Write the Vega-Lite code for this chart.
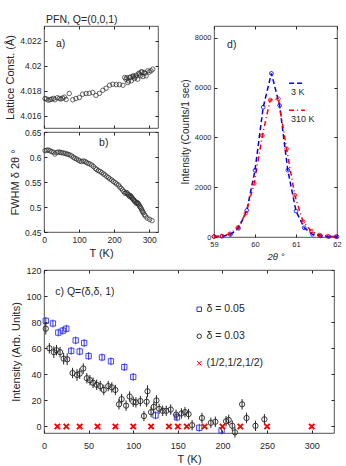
{
 "$schema": "https://vega.github.io/schema/vega-lite/v6.json",
 "padding": {"left": 4, "top": 14, "right": 0, "bottom": 0},
 "background": "white",
 "config": {
  "font": "Liberation Sans",
  "view": {"stroke": "#262626", "strokeWidth": 0.8},
  "axis": {"domain": false, "grid": false, "tickColor": "#262626", "tickSize": -3, "labelPadding": 6, "labelColor": "#262626", "titleColor": "#262626", "labelFontSize": 8.5, "titleFontSize": 11, "titleFontWeight": "normal", "titlePadding": 4, "labelFlush": false, "labelOverlap": false},
  "legend": {"labelColor": "#262626"},
  "title": {"fontWeight": "normal", "fontSize": 10.5, "color": "#262626"}
 },
 "datasets": {
  "pa": [
   {"T":3,"L":4.01739},{"T":7,"L":4.01735},{"T":12,"L":4.01726},{"T":17,"L":4.0173},{"T":22,"L":4.01734},{"T":27,"L":4.0174},{"T":31,"L":4.01729},{"T":38,"L":4.01745},{"T":44,"L":4.0174},{"T":48,"L":4.01735},{"T":53,"L":4.01742},{"T":58,"L":4.0175},{"T":63,"L":4.01731},{"T":72,"L":4.01779},{"T":82,"L":4.01729},{"T":91,"L":4.01739},{"T":101,"L":4.01747},{"T":110,"L":4.01773},{"T":120,"L":4.01779},{"T":129,"L":4.0178},{"T":139,"L":4.01787},{"T":148,"L":4.01764},{"T":158,"L":4.0178},{"T":168,"L":4.01805},{"T":177,"L":4.01821},{"T":187,"L":4.01845},{"T":196,"L":4.01853},{"T":206,"L":4.0185},{"T":215,"L":4.0185},{"T":225,"L":4.01845},{"T":230,"L":4.01906},{"T":234,"L":4.01893},{"T":236,"L":4.01905},{"T":239,"L":4.01866},{"T":241,"L":4.0188},{"T":244,"L":4.01906},{"T":247,"L":4.0191},{"T":249,"L":4.0188},{"T":253,"L":4.01914},{"T":255,"L":4.0192},{"T":258,"L":4.01898},{"T":260,"L":4.0191},{"T":263,"L":4.01925},{"T":267,"L":4.01893},{"T":270,"L":4.0194},{"T":272,"L":4.01933},{"T":275,"L":4.0192},{"T":277,"L":4.01952},{"T":280,"L":4.0195},{"T":282,"L":4.01914},{"T":286,"L":4.01946},{"T":288,"L":4.0194},{"T":291,"L":4.0192},{"T":296,"L":4.0196},{"T":300,"L":4.0195},{"T":305,"L":4.0196},{"T":310,"L":4.01973}
  ],
  "pb": [
   {"T":3,"W":0.6127},{"T":8,"W":0.6135},{"T":12,"W":0.614},{"T":17,"W":0.6125},{"T":22,"W":0.6107},{"T":27,"W":0.6095},{"T":31,"W":0.606},{"T":36,"W":0.609},{"T":41,"W":0.61},{"T":46,"W":0.6095},{"T":50,"W":0.6087},{"T":55,"W":0.608},{"T":60,"W":0.6073},{"T":65,"W":0.606},{"T":69,"W":0.6053},{"T":74,"W":0.604},{"T":79,"W":0.602},{"T":84,"W":0.5995},{"T":88,"W":0.5973},{"T":93,"W":0.596},{"T":98,"W":0.594},{"T":102,"W":0.592},{"T":107,"W":0.5907},{"T":112,"W":0.592},{"T":117,"W":0.5913},{"T":121,"W":0.589},{"T":126,"W":0.5873},{"T":131,"W":0.586},{"T":136,"W":0.584},{"T":141,"W":0.581},{"T":146,"W":0.5773},{"T":150,"W":0.575},{"T":155,"W":0.5727},{"T":160,"W":0.571},{"T":165,"W":0.5687},{"T":170,"W":0.566},{"T":174,"W":0.564},{"T":179,"W":0.561},{"T":184,"W":0.5587},{"T":188,"W":0.556},{"T":193,"W":0.554},{"T":198,"W":0.551},{"T":203,"W":0.5487},{"T":207,"W":0.546},{"T":212,"W":0.544},{"T":216,"W":0.54},{"T":220,"W":0.5373},{"T":224,"W":0.534},{"T":228,"W":0.5307},{"T":231,"W":0.5273},{"T":234,"W":0.529},{"T":237,"W":0.528},{"T":239,"W":0.5255},{"T":241,"W":0.524},{"T":244,"W":0.5207},{"T":246,"W":0.523},{"T":248,"W":0.5213},{"T":250,"W":0.519},{"T":252,"W":0.5173},{"T":254,"W":0.5155},{"T":256,"W":0.514},{"T":258,"W":0.512},{"T":260,"W":0.5107},{"T":263,"W":0.5073},{"T":265,"W":0.509},{"T":267,"W":0.508},{"T":269,"W":0.506},{"T":271,"W":0.504},{"T":273,"W":0.501},{"T":275,"W":0.4993},{"T":277,"W":0.497},{"T":279,"W":0.494},{"T":281,"W":0.491},{"T":283,"W":0.4887},{"T":286,"W":0.485},{"T":289,"W":0.482},{"T":294,"W":0.478},{"T":301,"W":0.4753},{"T":308,"W":0.4727}
  ],
  "pd": [
   {"a":59.0,"I":20,"s":"3 K"},{"a":59.2,"I":30,"s":"3 K"},{"a":59.4,"I":100,"s":"3 K"},{"a":59.6,"I":350,"s":"3 K"},{"a":59.8,"I":1070,"s":"3 K"},{"a":60.0,"I":2680,"s":"3 K"},{"a":60.2,"I":5210,"s":"3 K"},{"a":60.4,"I":6570,"s":"3 K"},{"a":60.6,"I":5280,"s":"3 K"},{"a":60.8,"I":2680,"s":"3 K"},{"a":61.0,"I":1040,"s":"3 K"},{"a":61.2,"I":370,"s":"3 K"},{"a":61.4,"I":110,"s":"3 K"},{"a":61.6,"I":40,"s":"3 K"},{"a":61.8,"I":15,"s":"3 K"},{"a":62.0,"I":10,"s":"3 K"},
   {"a":59.0,"I":20,"s":"310 K"},{"a":59.19,"I":40,"s":"310 K"},{"a":59.39,"I":130,"s":"310 K"},{"a":59.58,"I":380,"s":"310 K"},{"a":59.78,"I":960,"s":"310 K"},{"a":59.98,"I":2150,"s":"310 K"},{"a":60.18,"I":4070,"s":"310 K"},{"a":60.37,"I":5500,"s":"310 K"},{"a":60.57,"I":5550,"s":"310 K"},{"a":60.77,"I":3540,"s":"310 K"},{"a":60.97,"I":1680,"s":"310 K"},{"a":61.17,"I":620,"s":"310 K"},{"a":61.37,"I":240,"s":"310 K"},{"a":61.57,"I":80,"s":"310 K"},{"a":61.77,"I":30,"s":"310 K"},{"a":61.97,"I":15,"s":"310 K"}
  ],
  "pc": [
   {"T":2,"I":81,"e":3,"s":"δ = 0.05"},{"T":10,"I":79,"e":3,"s":"δ = 0.05"},{"T":16,"I":72,"e":3,"s":"δ = 0.05"},{"T":21,"I":73.5,"e":3,"s":"δ = 0.05"},{"T":25,"I":75,"e":3,"s":"δ = 0.05"},{"T":30.5,"I":58,"e":3,"s":"δ = 0.05"},{"T":35.5,"I":66,"e":3,"s":"δ = 0.05"},{"T":40,"I":57.5,"e":3,"s":"δ = 0.05"},{"T":45,"I":64,"e":3,"s":"δ = 0.05"},{"T":50,"I":54,"e":3,"s":"δ = 0.05"},{"T":65,"I":53,"e":3,"s":"δ = 0.05"},{"T":75,"I":50,"e":3,"s":"δ = 0.05"},{"T":90,"I":45.5,"e":3,"s":"δ = 0.05"},{"T":100,"I":38,"e":3,"s":"δ = 0.05"},{"T":125,"I":8.5,"e":3,"s":"δ = 0.05"},{"T":149,"I":7,"e":3,"s":"δ = 0.05"},{"T":174,"I":-1,"e":3,"s":"δ = 0.05"},{"T":199,"I":-3,"e":3,"s":"δ = 0.05"},
   {"T":2,"I":75,"e":4.5,"s":"δ = 0.03"},{"T":6,"I":60,"e":4,"s":"δ = 0.03"},{"T":11,"I":57,"e":4.5,"s":"δ = 0.03"},{"T":14,"I":58.5,"e":4,"s":"δ = 0.03"},{"T":18,"I":57,"e":4,"s":"δ = 0.03"},{"T":22,"I":52,"e":4.5,"s":"δ = 0.03"},{"T":26,"I":51.5,"e":4.5,"s":"δ = 0.03"},{"T":32,"I":41,"e":4,"s":"δ = 0.03"},{"T":37,"I":39.5,"e":4.5,"s":"δ = 0.03"},{"T":40,"I":40.5,"e":4,"s":"δ = 0.03"},{"T":44,"I":44.5,"e":4,"s":"δ = 0.03"},{"T":48,"I":37,"e":4,"s":"δ = 0.03"},{"T":51.5,"I":35.5,"e":4,"s":"δ = 0.03"},{"T":55,"I":33.5,"e":4,"s":"δ = 0.03"},{"T":59,"I":32,"e":4,"s":"δ = 0.03"},{"T":63,"I":31,"e":4,"s":"δ = 0.03"},{"T":67,"I":28,"e":4,"s":"δ = 0.03"},{"T":72,"I":31,"e":4,"s":"δ = 0.03"},{"T":76,"I":30,"e":4,"s":"δ = 0.03"},{"T":80,"I":28,"e":4,"s":"δ = 0.03"},{"T":84,"I":17,"e":4,"s":"δ = 0.03"},{"T":87,"I":21,"e":4,"s":"δ = 0.03"},{"T":92,"I":16,"e":4,"s":"δ = 0.03"},{"T":96,"I":23,"e":4,"s":"δ = 0.03"},{"T":100,"I":19,"e":4,"s":"δ = 0.03"},{"T":103,"I":18.5,"e":4,"s":"δ = 0.03"},{"T":108,"I":19.5,"e":4,"s":"δ = 0.03"},{"T":112,"I":8,"e":4,"s":"δ = 0.03"},{"T":115,"I":19,"e":4,"s":"δ = 0.03"},{"T":116,"I":27,"e":4.5,"s":"δ = 0.03"},{"T":120,"I":11,"e":4,"s":"δ = 0.03"},{"T":123,"I":15,"e":4,"s":"δ = 0.03"},{"T":126,"I":20,"e":4,"s":"δ = 0.03"},{"T":129,"I":13.5,"e":4,"s":"δ = 0.03"},{"T":133,"I":12,"e":4,"s":"δ = 0.03"},{"T":137,"I":12,"e":4,"s":"δ = 0.03"},{"T":142,"I":13,"e":4,"s":"δ = 0.03"},{"T":148,"I":9,"e":4,"s":"δ = 0.03"},{"T":154,"I":10,"e":4,"s":"δ = 0.03"},{"T":158,"I":11,"e":4,"s":"δ = 0.03"},{"T":162,"I":9.5,"e":4,"s":"δ = 0.03"},{"T":166,"I":1,"e":4,"s":"δ = 0.03"},{"T":177,"I":6.5,"e":4,"s":"δ = 0.03"},{"T":187,"I":2.8,"e":4,"s":"δ = 0.03"},{"T":192,"I":3.6,"e":4,"s":"δ = 0.03"},{"T":204,"I":4,"e":4,"s":"δ = 0.03"},{"T":207,"I":5,"e":4,"s":"δ = 0.03"},{"T":211,"I":0.5,"e":4,"s":"δ = 0.03"},{"T":214,"I":-4.5,"e":4,"s":"δ = 0.03"},{"T":222,"I":17,"e":4,"s":"δ = 0.03"},{"T":227,"I":6.5,"e":4,"s":"δ = 0.03"},{"T":237,"I":0.5,"e":4,"s":"δ = 0.03"},{"T":247,"I":5.5,"e":4,"s":"δ = 0.03"},
   {"T":15,"I":0,"e":0,"s":"(1/2,1/2,1/2)"},{"T":25,"I":0,"e":0,"s":"(1/2,1/2,1/2)"},{"T":40,"I":0,"e":0,"s":"(1/2,1/2,1/2)"},{"T":60,"I":0,"e":0,"s":"(1/2,1/2,1/2)"},{"T":80,"I":0,"e":0,"s":"(1/2,1/2,1/2)"},{"T":100,"I":0,"e":0,"s":"(1/2,1/2,1/2)"},{"T":120,"I":0,"e":0,"s":"(1/2,1/2,1/2)"},{"T":140,"I":0,"e":0,"s":"(1/2,1/2,1/2)"},{"T":150,"I":0,"e":0,"s":"(1/2,1/2,1/2)"},{"T":160,"I":0,"e":0,"s":"(1/2,1/2,1/2)"},{"T":180,"I":0,"e":0,"s":"(1/2,1/2,1/2)"},{"T":200,"I":0,"e":0,"s":"(1/2,1/2,1/2)"},{"T":220,"I":0,"e":0,"s":"(1/2,1/2,1/2)"},{"T":250,"I":0,"e":0,"s":"(1/2,1/2,1/2)"},{"T":300,"I":0,"e":0,"s":"(1/2,1/2,1/2)"}
  ]
 },
 "vconcat": [
  {"hconcat": [
   {"vconcat": [
    {
     "width": 114, "height": 102,
     "title": {"text": "PFN, Q=(0,0,1)", "anchor": "start", "frame": "group", "offset": 0, "dx": 2},
     "layer": [
      {"data": {"name": "pa"},
       "mark": {"type": "point", "shape": "circle", "filled": false, "size": 20, "strokeWidth": 0.7, "color": "#262626", "opacity": 1},
       "encoding": {
        "x": {"field": "T", "type": "quantitative", "scale": {"domain": [0, 325], "nice": false}, "axis": {"orient": "bottom", "values": [0, 100, 200, 300], "labels": false, "title": null}},
        "y": {"field": "L", "type": "quantitative", "scale": {"domain": [4.01504, 4.02317], "nice": false, "zero": false}, "axis": {"orient": "left", "values": [4.016, 4.018, 4.02, 4.022], "format": ".3~f", "title": "Lattice Const. (Å)"}}
       }},
      {"data": {"values": [{"T": 34, "L": 4.02176, "t": "a)"}]},
       "mark": {"type": "text", "align": "left", "baseline": "middle", "fontSize": 10.5, "color": "#262626"},
       "encoding": {
        "x": {"field": "T", "type": "quantitative", "scale": {"domain": [0, 325], "nice": false}, "axis": {"orient": "top", "values": [0, 100, 200, 300], "labels": false, "title": null}},
        "y": {"field": "L", "type": "quantitative", "scale": {"domain": [4.01504, 4.02317], "nice": false, "zero": false}, "axis": {"orient": "right", "values": [4.016, 4.018, 4.02, 4.022], "labels": false, "title": null}},
        "text": {"field": "t"}
       }}
     ],
     "resolve": {"axis": {"x": "independent", "y": "independent"}}
    },
    {
     "width": 114, "height": 100,
     "layer": [
      {"data": {"name": "pb"},
       "mark": {"type": "point", "shape": "circle", "filled": false, "size": 20, "strokeWidth": 0.7, "color": "#262626", "opacity": 1},
       "encoding": {
        "x": {"field": "T", "type": "quantitative", "scale": {"domain": [0, 325], "nice": false}, "axis": {"orient": "bottom", "values": [0, 100, 200, 300], "title": "T (K)"}},
        "y": {"field": "W", "type": "quantitative", "scale": {"domain": [0.45, 0.65], "nice": false, "zero": false}, "axis": {"orient": "left", "values": [0.45, 0.5, 0.55, 0.6, 0.65], "format": ".2~f", "title": "FWHM δ 2θ °"}}
       }},
      {"data": {"values": [{"T": 157, "W": 0.6286, "t": "b)"}]},
       "mark": {"type": "text", "align": "left", "baseline": "middle", "fontSize": 10.5, "color": "#262626"},
       "encoding": {
        "x": {"field": "T", "type": "quantitative", "scale": {"domain": [0, 325], "nice": false}, "axis": {"orient": "top", "values": [0, 100, 200, 300], "labels": false, "title": null}},
        "y": {"field": "W", "type": "quantitative", "scale": {"domain": [0.45, 0.65], "nice": false, "zero": false}, "axis": {"orient": "right", "values": [0.45, 0.5, 0.55, 0.6, 0.65], "labels": false, "title": null}},
        "text": {"field": "t"}
       }}
     ],
     "resolve": {"axis": {"x": "independent", "y": "independent"}}
    }
   ], "spacing": -2},
   {
    "width": 123, "height": 211,
    "layer": [
     {"data": {"name": "pd"},
      "mark": {"type": "line", "strokeWidth": 1.5},
      "encoding": {
       "x": {"field": "a", "type": "quantitative", "scale": {"domain": [59, 62], "nice": false}, "axis": {"orient": "bottom", "values": [59, 60, 61, 62], "title": "2θ °", "titleFontStyle": "italic", "labelFontSize": 7.5, "titleFontSize": 9.5}},
       "y": {"field": "I", "type": "quantitative", "scale": {"domain": [0, 8470], "nice": false}, "axis": {"orient": "left", "values": [0, 2000, 4000, 6000, 8000], "format": "d", "title": "Intensity (Counts/1 sec)", "labelFontSize": 7.5, "titleFontSize": 10}},
       "color": {"field": "s", "type": "nominal", "scale": {"domain": ["3 K", "310 K"], "range": ["#0000ff", "#ff0000"]},
        "legend": {"orient": "none", "legendX": 74, "legendY": 57, "title": null, "symbolType": "M-1,-1.1L1,-1.1", "symbolSize": 250, "symbolStrokeWidth": 1.5, "labelFontSize": 9, "labelOffset": -15, "rowPadding": 10, "padding": 0}},
       "strokeDash": {"field": "s", "type": "nominal", "scale": {"domain": ["3 K", "310 K"], "range": [[5, 3], [5, 3, 1, 3]]},
        "legend": {"orient": "none", "legendX": 74, "legendY": 57, "title": null, "symbolType": "M-1,-1.1L1,-1.1", "symbolSize": 250, "symbolStrokeWidth": 1.5, "labelFontSize": 9, "labelOffset": -15, "rowPadding": 10, "padding": 0}}
      }},
     {"data": {"name": "pd"},
      "mark": {"type": "point", "shape": "circle", "filled": false, "size": 14, "strokeWidth": 0.8, "opacity": 1},
      "encoding": {
       "x": {"field": "a", "type": "quantitative", "scale": {"domain": [59, 62], "nice": false}, "axis": null},
       "y": {"field": "I", "type": "quantitative", "scale": {"domain": [0, 8470], "nice": false}, "axis": null},
       "color": {"field": "s", "type": "nominal", "scale": {"domain": ["3 K", "310 K"], "range": ["#0000ff", "#ff0000"]}, "legend": null}
      }},
     {"data": {"values": [{"a": 59.32, "I": 7708, "t": "d)"}]},
      "mark": {"type": "text", "align": "left", "baseline": "middle", "fontSize": 10.5, "color": "#262626"},
      "encoding": {
       "x": {"field": "a", "type": "quantitative", "scale": {"domain": [59, 62], "nice": false}, "axis": {"orient": "top", "values": [59, 60, 61, 62], "labels": false, "title": null}},
       "y": {"field": "I", "type": "quantitative", "scale": {"domain": [0, 8470], "nice": false}, "axis": {"orient": "right", "values": [0, 2000, 4000, 6000, 8000], "labels": false, "title": null}},
       "text": {"field": "t"}
      }}
    ],
    "resolve": {"axis": {"x": "independent", "y": "independent"}}
   }
  ], "spacing": 20,
  "resolve": {"scale": {"color": "independent", "strokeDash": "independent"}, "legend": {"color": "independent", "strokeDash": "independent"}}},
  {"hconcat": [
  {
   "width": 290, "height": 163,
   "layer": [
    {"data": {"name": "pc"},
     "transform": [{"filter": "datum.s != '(1/2,1/2,1/2)'"}],
     "mark": {"type": "point", "filled": false, "size": 28, "strokeWidth": 0.9, "opacity": 1},
     "encoding": {
      "x": {"field": "T", "type": "quantitative", "scale": {"domain": [0, 325], "nice": false}, "axis": {"orient": "bottom", "values": [0, 50, 100, 150, 200, 250, 300], "title": "T (K)", "labelFontSize": 9, "labelPadding": 11, "titlePadding": 3}},
      "y": {"field": "I", "type": "quantitative", "scale": {"domain": [-5, 120], "nice": false, "zero": false}, "axis": {"orient": "left", "values": [0, 20, 40, 60, 80, 100, 120], "title": "Intensity (Arb. Units)", "labelFontSize": 9}},
      "shape": {"field": "s", "type": "nominal", "scale": {"domain": ["δ = 0.05", "δ = 0.03", "(1/2,1/2,1/2)"], "range": ["square", "circle", "M-1,-1L1,1M1,-1L-1,1"]},
       "legend": {"orient": "none", "legendX": 150, "legendY": 34, "title": null, "labelFontSize": 10.5, "rowPadding": 16, "labelOffset": 2, "padding": 0, "symbolSize": 20, "symbolStrokeWidth": 1}},
      "color": {"field": "s", "type": "nominal", "scale": {"domain": ["δ = 0.05", "δ = 0.03", "(1/2,1/2,1/2)"], "range": ["#3030ff", "#262626", "#ff0000"]},
       "legend": {"orient": "none", "legendX": 150, "legendY": 34, "title": null, "labelFontSize": 10.5, "rowPadding": 16, "labelOffset": 2, "padding": 0, "symbolSize": 20, "symbolStrokeWidth": 1}}
     }},
    {"data": {"name": "pc"},
     "mark": {"type": "errorbar", "ticks": false, "thickness": 1},
     "encoding": {
      "x": {"field": "T", "type": "quantitative", "scale": {"domain": [0, 325], "nice": false}, "axis": null},
      "y": {"field": "I", "type": "quantitative", "scale": {"domain": [-5, 120], "nice": false, "zero": false}, "axis": null},
      "yError": {"field": "e"},
      "color": {"field": "s", "type": "nominal", "scale": {"domain": ["δ = 0.05", "δ = 0.03", "(1/2,1/2,1/2)"], "range": ["#3030ff", "#262626", "#ff0000"]}, "legend": null}
     }},
    {"data": {"name": "pc"},
     "transform": [{"filter": "datum.s == '(1/2,1/2,1/2)'"}],
     "mark": {"type": "point", "filled": false, "size": 28, "strokeWidth": 2, "opacity": 1},
     "encoding": {
      "x": {"field": "T", "type": "quantitative", "scale": {"domain": [0, 325], "nice": false}, "axis": null},
      "y": {"field": "I", "type": "quantitative", "scale": {"domain": [-5, 120], "nice": false, "zero": false}, "axis": null},
      "shape": {"field": "s", "type": "nominal", "scale": {"domain": ["δ = 0.05", "δ = 0.03", "(1/2,1/2,1/2)"], "range": ["square", "circle", "M-1,-1L1,1M1,-1L-1,1"]}, "legend": null},
      "color": {"field": "s", "type": "nominal", "scale": {"domain": ["δ = 0.05", "δ = 0.03", "(1/2,1/2,1/2)"], "range": ["#3030ff", "#262626", "#ff0000"]}, "legend": null}
     }},
    {"data": {"values": [{"T": 12.6, "I": 103, "t": "c) Q=(δ,δ, 1)"}]},
     "mark": {"type": "text", "align": "left", "baseline": "middle", "fontSize": 10.5, "color": "#262626"},
     "encoding": {
      "x": {"field": "T", "type": "quantitative", "scale": {"domain": [0, 325], "nice": false}, "axis": {"orient": "top", "values": [0, 50, 100, 150, 200, 250, 300], "labels": false, "title": null}},
      "y": {"field": "I", "type": "quantitative", "scale": {"domain": [-5, 120], "nice": false, "zero": false}, "axis": {"orient": "right", "values": [0, 20, 40, 60, 80, 100, 120], "labels": false, "title": null}},
      "text": {"field": "t"}
     }}
   ],
   "resolve": {"axis": {"x": "independent", "y": "independent"}}
  }],
  "resolve": {"scale": {"color": "independent", "shape": "independent"}, "legend": {"color": "independent", "shape": "independent"}}}
 ],
 "spacing": 3,
 "resolve": {"scale": {"color": "independent", "shape": "independent", "strokeDash": "independent"}, "legend": {"color": "independent", "shape": "independent", "strokeDash": "independent"}}
}
